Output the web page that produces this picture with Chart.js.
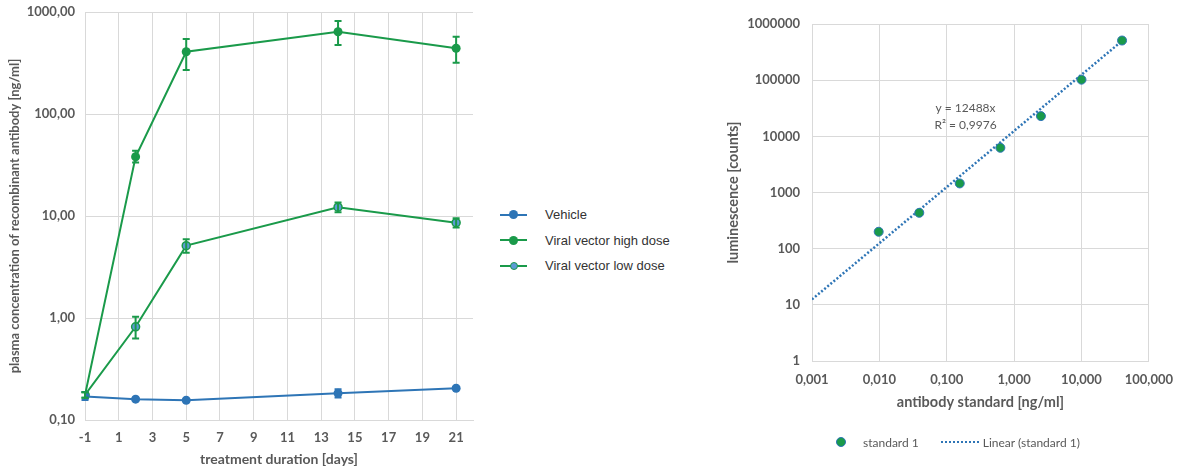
<!DOCTYPE html>
<html>
<head>
<meta charset="utf-8">
<script src="https://cdn.jsdelivr.net/npm/chart.js@4.4.0/dist/chart.umd.min.js"></script>
<style>
  body { margin: 0; background: #fff; width: 1184px; height: 470px; position: relative; overflow: hidden; }
  .box { position: absolute; top: 0; height: 470px; }
  #leftBox { left: 0; width: 490px; }
  #rightBox { left: 700px; width: 484px; }
  .legend { position: absolute; }
  #leftLegend { left: 500px; top: 202px; font: 13px "Liberation Sans", Arial, sans-serif; color: #333; }
  #leftLegend .row { display: flex; align-items: center; height: 25.5px; }
  #leftLegend .sym { position: relative; width: 27px; height: 10px; margin-right: 18px; }
  #leftLegend .sym .ln { position: absolute; left: 0; right: 0; top: 4px; height: 2px; }
  #leftLegend .sym .dot { position: absolute; border-radius: 50%; box-sizing: border-box; }
  #rightLegend { left: 836px; top: 434px; display: flex; align-items: center; height: 16px; font: 12px Lato, sans-serif; color: #595959; }
  #rightLegend .dot { width: 10px; height: 10px; border-radius: 50%; box-sizing: border-box; margin-right: 17px; }
  #rightLegend .dash { width: 38px; height: 0; border-top: 2.5px dotted #2e75b6; margin: 0 4px 0 22px; }
</style>
</head>
<body>
<div class="box" id="leftBox"><canvas id="leftChart"></canvas></div>
<div class="box" id="rightBox"><canvas id="rightChart"></canvas></div>
<div class="legend" id="leftLegend"></div>
<div class="legend" id="rightLegend"></div>
<script>
// left chart: plasma concentration over time
const days = [-1, 2, 5, 14, 21];
const vehicle = [0.17, 0.16, 0.156, 0.183, 0.205];
const vehicleLow = [0.157, 0.155, 0.152, 0.166, 0.2];
const vehicleHigh = [0.188, 0.165, 0.16, 0.2, 0.21];
const highDose = [0.176, 38.1, 408, 641, 441];
const highDoseLow = [0.165, 33.4, 270, 474, 318];
const highDoseHigh = [0.187, 43.6, 543, 816, 573];
const lowDose = [0.176, 0.82, 5.12, 12.2, 8.6];
const lowDoseLow = [0.165, 0.63, 4.37, 10.9, 7.7];
const lowDoseHigh = [0.187, 1.03, 5.91, 13.6, 9.5];
const leftXTicks = [-1, 1, 3, 5, 7, 9, 11, 13, 15, 17, 19, 21];
const leftYTicks = [0.1, 1, 10, 100, 1000];
const leftYTickLabels = ['0,10', '1,00', '10,00', '100,00', '1000,00'];

// right chart: standard curve
const stdConc = [0.00977, 0.0391, 0.156, 0.625, 2.5, 10, 40];
const stdCounts = [200, 435, 1450, 6250, 22900, 102000, 508000];
const trendX = [0.001, 40];
const trendY = [12.488, 499520];
const trendLabel = ['y = 12488x', 'R² = 0,9976'];
const rightXTicks = [0.001, 0.01, 0.1, 1, 10, 100];
const rightXTickLabels = ['0,001', '0,010', '0,100', '1,000', '10,000', '100,000'];
const rightYTicks = [1, 10, 100, 1000, 10000, 100000, 1000000];
const rightYTickLabels = ['1', '10', '100', '1000', '10000', '100000', '1000000'];

const BLUE = '#2e75b6';
const GREEN = '#1a9a4a';
const GRID = '#d9d9d9';
const TXT = '#595959';

Chart.defaults.font.family = 'Lato, sans-serif';
Chart.defaults.color = TXT;

const pts = (xs, ys) => xs.map((x, i) => ({ x: x, y: ys[i] }));
const setTicks = (vals) => (s) => { s.ticks = vals.map(v => ({ value: v })); };
const tickFont = { size: 13, weight: 'bold' };
const titleFont = { size: 14, weight: 'bold' };

const errorBars = {
  id: 'errorBars',
  afterDatasetsDraw(chart) {
    const { ctx, scales: { x, y } } = chart;
    chart.data.datasets.forEach((ds) => {
      if (!ds.errLow) return;
      ctx.save();
      ctx.strokeStyle = ds.borderColor;
      ctx.lineWidth = 2;
      ds.data.forEach((p, j) => {
        const px = x.getPixelForValue(p.x);
        const lo = y.getPixelForValue(ds.errLow[j]);
        const hi = y.getPixelForValue(ds.errHigh[j]);
        ctx.beginPath();
        ctx.moveTo(px, lo); ctx.lineTo(px, hi);
        ctx.moveTo(px - 3.5, lo); ctx.lineTo(px + 3.5, lo);
        ctx.moveTo(px - 3.5, hi); ctx.lineTo(px + 3.5, hi);
        ctx.stroke();
      });
      ctx.restore();
    });
  }
};

const leftChart = new Chart(document.getElementById('leftChart'), {
  type: 'line',
  data: {
    datasets: [
      { label: 'Vehicle', data: pts(days, vehicle), errLow: vehicleLow, errHigh: vehicleHigh,
        borderColor: BLUE, backgroundColor: BLUE, pointBackgroundColor: BLUE, borderWidth: 2, pointRadius: 4.5, pointBorderWidth: 0 },
      { label: 'Viral vector high dose', data: pts(days, highDose), errLow: highDoseLow, errHigh: highDoseHigh,
        borderColor: GREEN, backgroundColor: GREEN, pointBackgroundColor: GREEN, borderWidth: 2, pointRadius: 4.5, pointBorderWidth: 0 },
      { label: 'Viral vector low dose', data: pts(days, lowDose), errLow: lowDoseLow, errHigh: lowDoseHigh,
        borderColor: GREEN, backgroundColor: '#5b9bd5', pointBackgroundColor: '#5b9bd5', pointBorderColor: GREEN, borderWidth: 2, pointRadius: 4, pointBorderWidth: 1.5 }
    ]
  },
  options: {
    responsive: true,
    maintainAspectRatio: false,
    animation: false,
    layout: { padding: { left: 0, top: 12, right: 17, bottom: 0 } },
    plugins: { legend: { display: false }, tooltip: { enabled: false } },
    scales: {
      x: {
        type: 'linear', min: -1, max: 22,
        afterBuildTicks: setTicks(leftXTicks),
        afterFit: (s) => { s.height = 50; },
        ticks: { font: tickFont, padding: 10, color: TXT },
        grid: { color: GRID, drawTicks: false },
        border: { color: GRID },
        title: { display: true, text: 'treatment duration [days]', font: titleFont, color: TXT, padding: { top: 0, bottom: 2 } }
      },
      y: {
        type: 'logarithmic', min: 0.1, max: 1000,
        afterBuildTicks: setTicks(leftYTicks),
        afterFit: (s) => { s.width = 85; s.paddingTop = 4; },
        ticks: { font: tickFont, padding: 10, color: TXT, callback: (v, i) => leftYTickLabels[i] },
        grid: { color: GRID, drawTicks: false },
        border: { color: GRID },
        title: { display: true, text: 'plasma concentration of recombinant antibody [ng/ml]', font: tickFont, color: TXT, padding: { top: 7, bottom: 0 } }
      }
    }
  },
  plugins: [errorBars]
});

const trendText = {
  id: 'trendText',
  afterDatasetsDraw(chart) {
    const { ctx, scales: { x, y } } = chart;
    const cx = x.getPixelForValue(0.19);
    const cy = y.getPixelForValue(31600);
    ctx.save();
    ctx.font = '12px Lato, sans-serif';
    ctx.fillStyle = TXT;
    ctx.textAlign = 'center';
    ctx.textBaseline = 'middle';
    trendLabel.forEach((t, i) => ctx.fillText(t, cx, cy + i * 17));
    ctx.restore();
  }
};

const rightChart = new Chart(document.getElementById('rightChart'), {
  type: 'scatter',
  data: {
    datasets: [
      { label: 'standard 1', data: pts(stdConc, stdCounts),
        backgroundColor: GREEN, borderColor: BLUE, borderWidth: 1, pointRadius: 4.5 },
      { label: 'Linear (standard 1)', data: pts(trendX, trendY), showLine: true,
        borderColor: BLUE, borderWidth: 2.5, borderDash: [2, 2], pointRadius: 0 }
    ]
  },
  options: {
    responsive: true,
    maintainAspectRatio: false,
    animation: false,
    layout: { padding: { left: 18, top: 24, right: 27, bottom: 57 } },
    plugins: { legend: { display: false }, tooltip: { enabled: false } },
    scales: {
      x: {
        type: 'logarithmic', min: 0.001, max: 100,
        afterBuildTicks: setTicks(rightXTicks),
        afterFit: (s) => { s.height = 52; },
        ticks: { font: tickFont, padding: 11, color: TXT, autoSkip: false, maxRotation: 0, callback: (v, i) => rightXTickLabels[i] },
        grid: { color: GRID, drawTicks: false },
        border: { color: GRID },
        title: { display: true, text: 'antibody standard [ng/ml]', font: { size: 14.5, weight: 'bold' }, color: TXT, padding: { top: 0, bottom: 2 } }
      },
      y: {
        type: 'logarithmic', min: 1, max: 1000000,
        afterBuildTicks: setTicks(rightYTicks),
        afterFit: (s) => { s.width = 94; },
        ticks: { font: tickFont, padding: 12, color: TXT, callback: (v, i) => rightYTickLabels[i] },
        grid: { color: GRID, drawTicks: false },
        border: { color: GRID },
        title: { display: true, text: 'luminescence [counts]', font: { size: 14.5, weight: 'bold' }, color: TXT, padding: { top: 7, bottom: 0 } }
      }
    }
  },
  plugins: [trendText]
});

// html legends built from the datasets
const leftLegend = document.getElementById('leftLegend');
leftChart.data.datasets.forEach(ds => {
  const row = document.createElement('div');
  row.className = 'row';
  const r = ds.pointRadius * 2;
  row.innerHTML =
    '<div class="sym"><div class="ln" style="background:' + ds.borderColor + '"></div>' +
    '<div class="dot" style="width:' + r + 'px;height:' + r + 'px;left:' + (13.5 - r / 2) + 'px;top:' + (5 - r / 2) + 'px;background:' +
    ds.pointBackgroundColor + ';border:' + (ds.pointBorderWidth || 0) + 'px solid ' + (ds.pointBorderColor || ds.borderColor) + '"></div></div>' +
    '<span>' + ds.label + '</span>';
  leftLegend.appendChild(row);
});

const rightLegend = document.getElementById('rightLegend');
rightChart.data.datasets.forEach(ds => {
  const sym = document.createElement('div');
  if (ds.showLine) {
    sym.className = 'dash';
  } else {
    sym.className = 'dot';
    sym.style.background = ds.backgroundColor;
    sym.style.border = ds.borderWidth + 'px solid ' + ds.borderColor;
  }
  const txt = document.createElement('span');
  txt.textContent = ds.label;
  rightLegend.appendChild(sym);
  rightLegend.appendChild(txt);
});
</script>
</body>
</html>
